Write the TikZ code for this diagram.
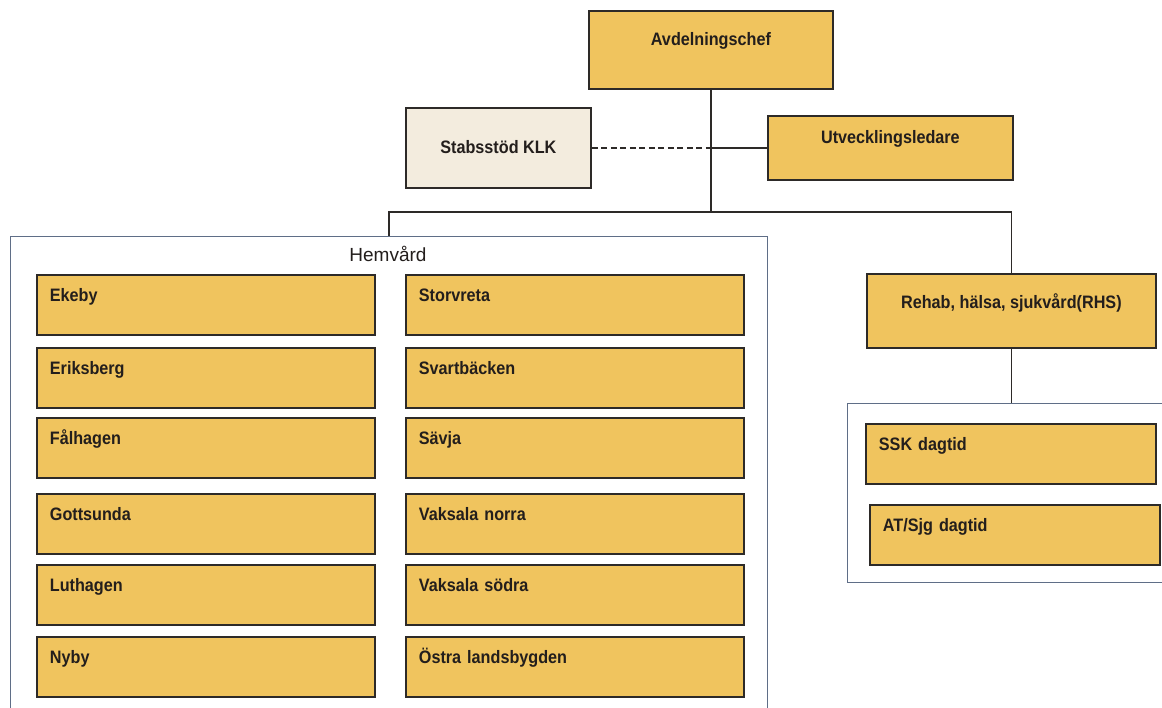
\documentclass[tikz,border=0pt]{standalone}
\usepackage{fontspec}
\setmainfont{Liberation Sans}
\newfontfamily\boxfont{Liberation Sans}[FakeStretch=0.9]
\usepackage{xcolor}
\usetikzlibrary{positioning,calc}

\definecolor{gold}{RGB}{240,196,94}
\definecolor{sand}{RGB}{243,236,222}
\definecolor{edge}{RGB}{45,42,40}
\definecolor{frame}{RGB}{95,110,135}
\definecolor{ink}{RGB}{35,30,28}

\begin{document}
\begin{tikzpicture}[x=1pt, y=-1pt,
    head/.style={rectangle, draw=edge, line width=1.8pt, fill=gold, anchor=north west, inner sep=0pt, align=center, text=ink, font=\boxfont\bfseries\fontsize{18}{21}\selectfont},
    unit/.style={head, inner xsep=13pt, text width=312pt, align=left, text height=27pt, text depth=33pt},
    group/.style={rectangle, draw=frame, line width=1pt, anchor=north west},
    link/.style={draw=edge, line width=1.5pt}]

    \useasboundingbox (0,0) rectangle (1162,708);
    \clip (0,0) rectangle (1162,708);
    \fill[white] (0,0) rectangle (1162,708);

    \node[head, minimum width=244pt, text height=35pt, text depth=43pt] (avd) at (588,10) {Avdelningschef};
    \node[head, fill=sand, minimum width=185pt, text height=46pt, text depth=34pt] (stab) at (405,107) {Stabsstöd KLK};
    \node[head, minimum width=245pt, text height=28pt, text depth=36pt] (utv) at (767,115) {Utvecklingsledare};

    % Hemvard
    \node[group, minimum width=757pt, minimum height=490pt] (hem) at (10,236) {};
    \node[anchor=base, text=ink, font=\fontsize{19}{22}\selectfont] (hemtitle) at (388,262) {Hemvård};
    \node[unit] (ekeby) at (36,274) {Ekeby};
    \node[unit] (eriksberg) at (36,347) {Eriksberg};
    \node[unit] (falhagen) at (36,417) {Fålhagen};
    \node[unit] (gottsunda) at (36,493) {Gottsunda};
    \node[unit] (luthagen) at (36,564) {Luthagen};
    \node[unit] (nyby) at (36,636) {Nyby};
    \node[unit] (storvreta) at (405,274) {Storvreta};
    \node[unit] (svartbacken) at (405,347) {Svartbäcken};
    \node[unit] (savja) at (405,417) {Sävja};
    \node[unit] (vaknorra) at (405,493) {Vaksala norra};
    \node[unit] (vaksodra) at (405,564) {Vaksala södra};
    \node[unit] (ostra) at (405,636) {Östra landsbygden};

    % RHS
    \node[head, minimum width=289pt, text height=35pt, text depth=39pt] (rhs) at (866,273) {Rehab, hälsa, sjukvård(RHS)};
    \node[group, minimum width=340pt, minimum height=179pt] (rhsgrp) at (847,403) {};
    \node[unit, text width=264pt] (ssk) at (865,423) {SSK dagtid};
    \node[unit, text width=264pt] (atsjg) at (869,504) {AT/Sjg dagtid};

    % Lines
    \coordinate (bar) at (avd.south |- 0,212);
    \draw[link] (avd.south) -- (bar);
    \draw[link] (bar) -| (hem.north);
    \draw[link] (bar) -| (rhs.north);
    \draw[link, dash pattern=on 6pt off 3.5pt] (stab.east) -- (stab.east -| avd.south);
    \draw[link] (stab.east -| avd.south) -- (utv.west);
    \draw[link] (rhs.south) -- (rhs.south |- rhsgrp.north);

\end{tikzpicture}
\end{document}
